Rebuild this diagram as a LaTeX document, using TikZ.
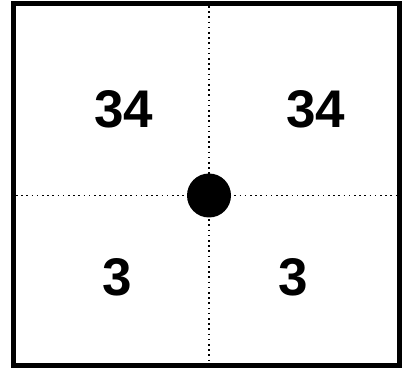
\documentclass[tikz,border=0pt]{standalone}
\usepackage{fontspec}
\setmainfont{Liberation Sans}
\tikzset{
  num/.style={font=\fontsize{53}{53}\selectfont\bfseries, inner sep=0pt},
  grid line/.style={line width=1.6pt, dash pattern=on 1.6pt off 3.6pt}
}
\begin{document}
\begin{tikzpicture}[x=1pt,y=-1pt]
  \useasboundingbox (0,0) rectangle (409,371);
  \draw[line width=5pt] (13.5,3.5) rectangle (399.5,365.5);
  \coordinate (top) at (209,6);
  \coordinate (bottom) at (209,363);
  \coordinate (left) at (16,195.5);
  \coordinate (right) at (397,195.5);
  \draw[grid line] (top) -- (bottom);
  \draw[grid line] (left) -- (right);
  \fill (209,195.5) circle (22);
  \node[num] (nw) at (124,109) {34};
  \node[num] (ne) at (316,109) {34};
  \node[num] (sw) at (117.5,277.5) {3};
  \node[num] (se) at (293,277) {3};
\end{tikzpicture}
\end{document}
